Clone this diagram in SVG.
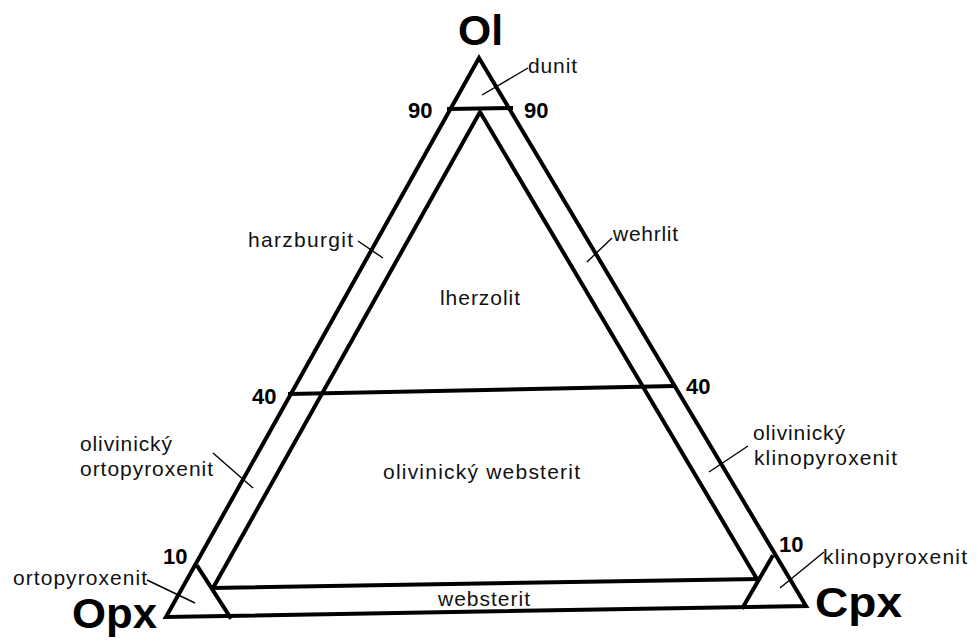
<svg xmlns="http://www.w3.org/2000/svg" width="978" height="642" viewBox="0 0 978 642">
<style>
.ln{fill:none;stroke:#000;stroke-width:4;stroke-linejoin:miter;stroke-linecap:square}
.ld{fill:none;stroke:#000;stroke-width:1.4}
.lb{font-family:"Liberation Sans",Arial,sans-serif;font-size:21px;fill:#111}
.num{font-family:"Liberation Sans",Arial,sans-serif;font-size:22px;font-weight:bold;fill:#000}
.ax{font-family:"Liberation Sans",Arial,sans-serif;font-size:43px;font-weight:bold;fill:#000}
</style>
<rect width="978" height="642" fill="#fff"/>
<g id="connectors">
  <polygon class="ln" points="479,58 166,617 806,606"/>
  <line class="ln" x1="449" y1="109" x2="511" y2="108"/>
  <polyline class="ln" points="213,588 480,112 757,579"/>
  <line class="ln" x1="213" y1="588" x2="757" y2="579"/>
  <line class="ln" x1="290" y1="394" x2="673" y2="386"/>
  <line class="ln" x1="198" y1="567" x2="230" y2="617"/>
  <line class="ln" x1="772" y1="557" x2="743" y2="607"/>
  <line class="ld" x1="482" y1="95" x2="528" y2="68"/>
  <line class="ld" x1="358" y1="241" x2="383" y2="258"/>
  <line class="ld" x1="612" y1="238" x2="587" y2="262"/>
  <line class="ld" x1="213" y1="453" x2="253" y2="488"/>
  <line class="ld" x1="748" y1="446" x2="709" y2="472"/>
  <line class="ld" x1="147" y1="580" x2="195" y2="603"/>
  <line class="ld" x1="824" y1="552" x2="780" y2="588"/>
</g>
<g id="node-ol"><text class="ax" x="458" y="45" textLength="45" lengthAdjust="spacingAndGlyphs">Ol</text></g>
<g id="node-opx"><text class="ax" x="72" y="628" textLength="85" lengthAdjust="spacingAndGlyphs">Opx</text></g>
<g id="node-cpx"><text class="ax" x="815" y="617" textLength="87" lengthAdjust="spacingAndGlyphs">Cpx</text></g>
<g id="ticks">
  <text class="num" x="408" y="118">90</text>
  <text class="num" x="524" y="118">90</text>
  <text class="num" x="252" y="404">40</text>
  <text class="num" x="686" y="394">40</text>
  <text class="num" x="163" y="564">10</text>
  <text class="num" x="779" y="552">10</text>
</g>
<g id="node-dunit"><text class="lb" x="528" y="73" textLength="49">dunit</text></g>
<g id="node-harzburgit"><text class="lb" x="248" y="247" textLength="105">harzburgit</text></g>
<g id="node-wehrlit"><text class="lb" x="613" y="241" textLength="65">wehrlit</text></g>
<g id="node-lherzolit"><text class="lb" x="440" y="305" textLength="80">lherzolit</text></g>
<g id="node-ol-websterit"><text class="lb" x="383" y="479" textLength="197">olivinický websterit</text></g>
<g id="node-ol-ortopyroxenit">
  <text class="lb" x="80" y="451" textLength="92">olivinický</text>
  <text class="lb" x="80" y="476" textLength="133">ortopyroxenit</text>
</g>
<g id="node-ol-klinopyroxenit">
  <text class="lb" x="753" y="440" textLength="92">olivinický</text>
  <text class="lb" x="754" y="465" textLength="143">klinopyroxenit</text>
</g>
<g id="node-ortopyroxenit"><text class="lb" x="13" y="585" textLength="134">ortopyroxenit</text></g>
<g id="node-klinopyroxenit"><text class="lb" x="823" y="564" textLength="144">klinopyroxenit</text></g>
<g id="node-websterit"><text class="lb" x="438" y="606" textLength="92">websterit</text></g>
</svg>
